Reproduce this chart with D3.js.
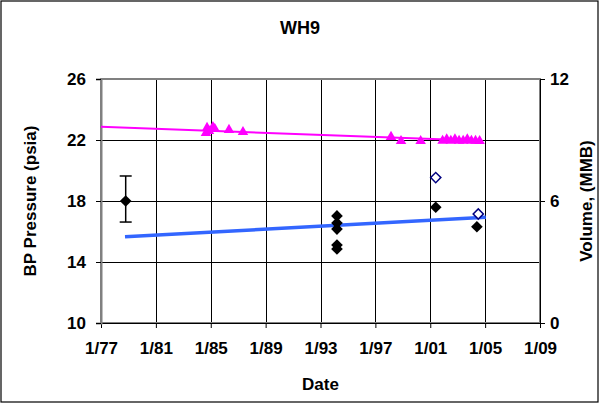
<!DOCTYPE html>
<html><head><meta charset="utf-8">
<script src="https://cdn.jsdelivr.net/npm/d3@7/dist/d3.min.js"></script>
<style>body{margin:0;background:#fff}svg{display:block}text{font-family:"Liberation Sans",Arial,sans-serif;font-weight:bold;fill:#000}</style>
</head><body><svg id="c" width="600" height="404"></svg>
<script>
// Data (years as decimal, pressures psia, volumes MMB)
const xTickYears = [1977,1981,1985,1989,1993,1997,2001,2005,2009];
const xTickLabels = ["1/77","1/81","1/85","1/89","1/93","1/97","1/01","1/05","1/09"];
const leftTicks = [10,14,18,22,26];
const rightTicks = [0,6,12];

// magenta triangles: BP pressure
const triYears = [1984.65,1984.73,1984.87,1985.16,1985.3,1986.33,1987.35,1998.14,1998.87,2000.3,2001.9,2002.2,2002.5,2002.8,2003.1,2003.4,2003.7,2004.0,2004.3,2004.6];
const triPsi   = [22.46,22.79,22.59,22.85,22.72,22.66,22.52,22.2,21.93,21.93,21.95,22.05,21.95,22.05,21.95,21.95,22.05,21.95,21.95,21.93];
// magenta trend line endpoints
const pinkTrendYears = [1977.0, 2004.7];
const pinkTrendPsi = [22.87, 21.95];

// black diamonds: pressure
const diaYears = [1978.8,1994.2,1994.2,1994.2,1994.2,1994.2,2001.4,2004.4];
const diaPsi   = [18.0,17.02,16.56,16.16,15.11,14.85,17.59,16.31];
// error bar on first diamond
const errYear = 1978.8, errLow = 16.62, errHigh = 19.64;

// blue trend line endpoints
const blueYears = [1978.75, 2005.05];
const bluePsi = [15.66, 16.93];

// open diamonds: volume (right axis)
const openYears = [2001.4, 2004.5];
const openVol = [7.15, 5.36];

const svg = d3.select("#c");
const L=101, R=540, T=79, B=323;
const x = d3.scaleLinear().domain([1977,2009]).range([L,R]);
const yL = d3.scaleLinear().domain([10,26]).range([B,T]);
const yR = d3.scaleLinear().domain([0,12]).range([B,T]);

svg.append("rect").attr("x",1).attr("y",1).attr("width",597).attr("height",401)
  .attr("fill","#fff").attr("stroke","#000").attr("stroke-width",1.2);

// gridlines
const g = svg.append("g");
g.selectAll(".vg").data(xTickYears.slice(1,-1)).join("line")
  .attr("x1",d=>Math.round(x(d))+0.5).attr("x2",d=>Math.round(x(d))+0.5)
  .attr("y1",T).attr("y2",B).attr("stroke","#000").attr("stroke-width",1);
g.selectAll(".hg").data(leftTicks.slice(1,-1)).join("line")
  .attr("x1",L).attr("x2",R).attr("y1",d=>Math.round(yL(d))+0.5).attr("y2",d=>Math.round(yL(d))+0.5)
  .attr("stroke","#000").attr("stroke-width",1);

// plot border (gray)
svg.append("rect").attr("x",L).attr("y",T).attr("width",R-L).attr("height",B-T)
  .attr("fill","none").attr("stroke","#808080").attr("stroke-width",2);

// axes
const fs = "17px";
const xAxis = d3.axisBottom(x).tickValues(xTickYears).tickFormat((d,i)=>xTickLabels[i]).tickSize(5).tickPadding(14);
const gx = svg.append("g").attr("transform",`translate(0,${B})`).call(xAxis);
const yAxisL = d3.axisLeft(yL).tickValues(leftTicks).tickSize(5).tickPadding(10);
const gyl = svg.append("g").attr("transform",`translate(${L},0)`).call(yAxisL);
const yAxisR = d3.axisRight(yR).tickValues(rightTicks).tickSize(5).tickPadding(5);
const gyr = svg.append("g").attr("transform",`translate(${R},0)`).call(yAxisR);
[gx,gyl,gyr].forEach(a=>{
  a.selectAll("text").style("font-size",fs).style("font-family","Liberation Sans, Arial, sans-serif").style("font-weight","bold");
  a.selectAll("line,path").attr("stroke","#000");
});
gyl.select("path").attr("stroke","#808080").attr("stroke-width",2);

// pink trend line
svg.append("line").attr("x1",x(pinkTrendYears[0])).attr("y1",yL(pinkTrendPsi[0]))
  .attr("x2",x(pinkTrendYears[1])).attr("y2",yL(pinkTrendPsi[1]))
  .attr("stroke","#ff00ff").attr("stroke-width",2);
// blue trend line
svg.append("line").attr("x1",x(blueYears[0])).attr("y1",yL(bluePsi[0]))
  .attr("x2",x(blueYears[1])).attr("y2",yL(bluePsi[1]))
  .attr("stroke","#3366ff").attr("stroke-width",3.5);

// triangles
const tri = d3.symbol().type(d3.symbolTriangle).size(48);
svg.selectAll(".tri").data(triYears).join("path")
  .attr("d",tri).attr("transform",(d,i)=>`translate(${x(d)},${yL(triPsi[i])})`)
  .attr("fill","#ff00ff");

// error bar
const ex = x(errYear);
svg.append("line").attr("x1",ex).attr("x2",ex).attr("y1",yL(errHigh)).attr("y2",yL(errLow)).attr("stroke","#000").attr("stroke-width",1.5);
[errHigh,errLow].forEach(v=>svg.append("line").attr("x1",ex-6).attr("x2",ex+6).attr("y1",yL(v)).attr("y2",yL(v)).attr("stroke","#000").attr("stroke-width",1.5));

// black diamonds
svg.selectAll(".dia").data(diaYears).join("path")
  .attr("d",d3.symbol().type(d3.symbolSquare).size(68))
  .attr("transform",(d,i)=>`translate(${x(d)},${yL(diaPsi[i])}) rotate(45)`)
  .attr("fill","#000");

// open diamonds
svg.selectAll(".od").data(openYears).join("path")
  .attr("d",d3.symbol().type(d3.symbolSquare).size(52))
  .attr("transform",(d,i)=>`translate(${x(d)},${yR(openVol[i])}) rotate(45)`)
  .attr("fill","#fff").attr("stroke","#000080").attr("stroke-width",1.5);

// titles
svg.append("text").attr("x",300).attr("y",34).attr("text-anchor","middle").style("font-size","18px").text("WH9");
svg.append("text").attr("x",(L+R)/2).attr("y",390).attr("text-anchor","middle").style("font-size","17px").text("Date");
svg.append("text").attr("transform",`translate(36,${(T+B)/2}) rotate(-90)`).attr("text-anchor","middle").style("font-size","17px").text("BP Pressure (psia)");
svg.append("text").attr("transform",`translate(586,${(T+B)/2}) rotate(-90)`).attr("text-anchor","middle").attr("dy","0.35em").style("font-size","17px").text("Volume, (MMB)");
</script></body></html>
